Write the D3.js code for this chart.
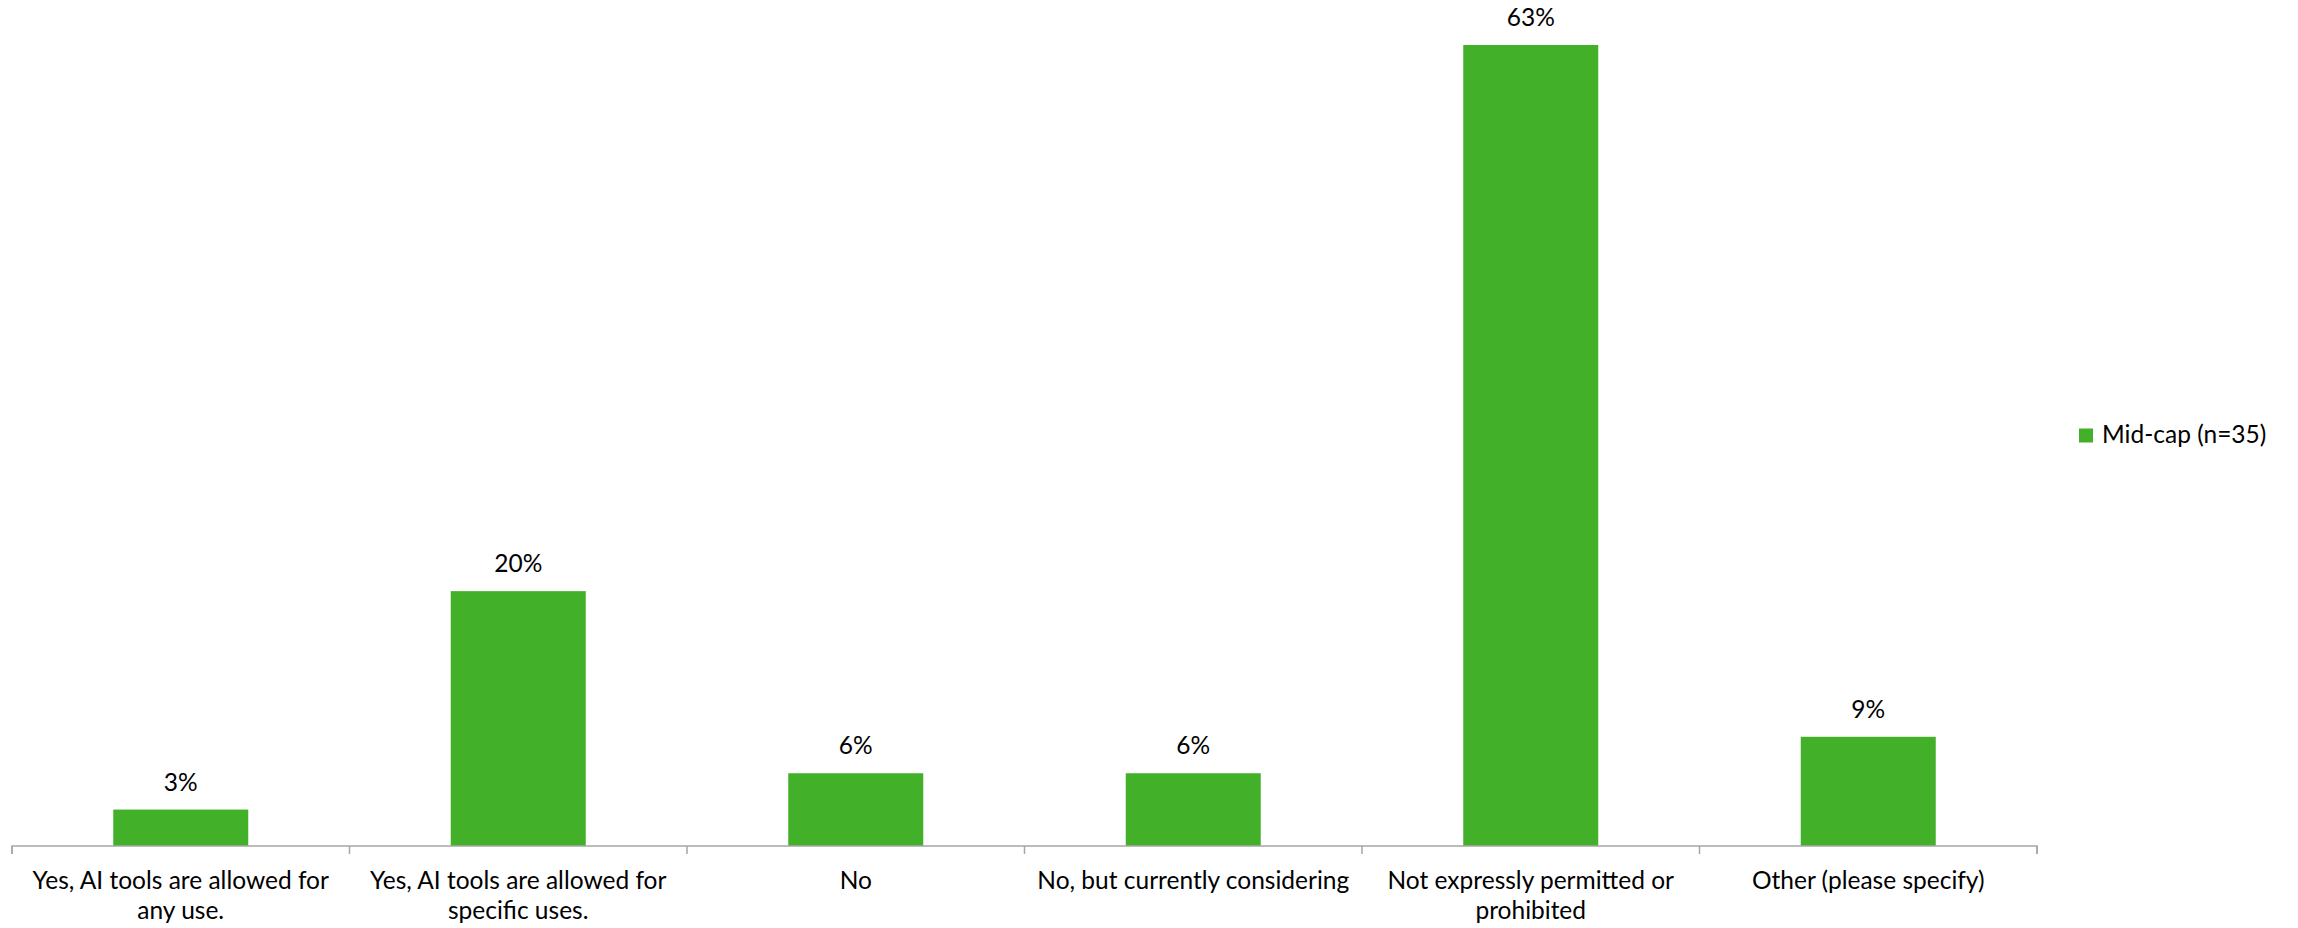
<!DOCTYPE html>
<html><head><meta charset="utf-8">
<script src="https://cdn.jsdelivr.net/npm/d3@7"></script>
<style>html,body{margin:0;padding:0;background:#fff;}svg{display:block;}</style>
</head><body>
<svg id="chart" width="2298" height="928"></svg>
<script>
const categories = [
  "Yes, AI tools are allowed for\nany use.",
  "Yes, AI tools are allowed for\nspecific uses.",
  "No",
  "No, but currently considering",
  "Not expressly permitted or\nprohibited",
  "Other (please specify)"
];
const values = [2.86, 20.0, 5.71, 5.71, 62.86, 8.57];
const valueLabels = ["3%", "20%", "6%", "6%", "63%", "9%"];
const seriesName = "Mid-cap (n=35)";

const FONT = "Lato, 'Open Sans', sans-serif";
const FS = 24.5;
const GREEN = "#43B02A";
const svg = d3.select("#chart");
const x0 = 12, x1 = 2037, baseY = 846;
const x = d3.scaleBand().domain(d3.range(categories.length)).range([x0, x1]).paddingInner(0).paddingOuter(0);
const y = d3.scaleLinear().domain([0, 62.86]).range([baseY, 45]);
const bw = x.bandwidth();
const barW = bw * 0.4;

svg.append("g").selectAll("rect").data(values).join("rect")
  .attr("x", (d,i) => x(i) + (bw - barW)/2)
  .attr("width", barW)
  .attr("y", d => y(d))
  .attr("height", d => baseY - y(d))
  .attr("fill", GREEN);

svg.append("g").selectAll("text").data(values).join("text")
  .attr("x", (d,i) => x(i) + bw/2)
  .attr("y", d => y(d) - 19)
  .attr("text-anchor", "middle")
  .attr("font-family", FONT).attr("font-size", FS).attr("fill", "#000")
  .text((d,i) => valueLabels[i]);

// axis
const axis = d3.axisBottom(x).tickSize(8).tickSizeOuter(8).tickFormat("");
const ag = svg.append("g").attr("transform", `translate(0,${baseY})`).call(axis);
ag.select(".domain").attr("stroke", "#A6A6A6").attr("stroke-width", 1.5)
  .attr("d", `M${x0},8V0H${x1}V8`);
ag.selectAll(".tick").remove();
const tickXs = d3.range(categories.length + 1).map(i => x0 + i * bw);
ag.selectAll("line.t").data(tickXs).join("line").attr("class","t")
  .attr("x1", d => d).attr("x2", d => d).attr("y1", 0).attr("y2", 8)
  .attr("stroke", "#A6A6A6").attr("stroke-width", 1.5);

// category labels
const lab = svg.append("g").selectAll("text").data(categories).join("text")
  .attr("text-anchor", "middle")
  .attr("font-family", FONT).attr("font-size", FS).attr("fill", "#000");
lab.each(function(c, i) {
  const lines = c.split("\n");
  d3.select(this).selectAll("tspan").data(lines).join("tspan")
    .attr("x", x(i) + bw/2)
    .attr("y", (l, j) => 889 + j * 30)
    .text(l => l);
});

// legend
const lg = svg.append("g");
lg.append("rect").attr("x", 2079).attr("y", 428.5).attr("width", 14).attr("height", 14).attr("fill", GREEN);
lg.append("text").attr("x", 2102).attr("y", 443).attr("font-family", FONT).attr("font-size", FS).attr("fill", "#000").text(seriesName);
</script>
</body></html>
